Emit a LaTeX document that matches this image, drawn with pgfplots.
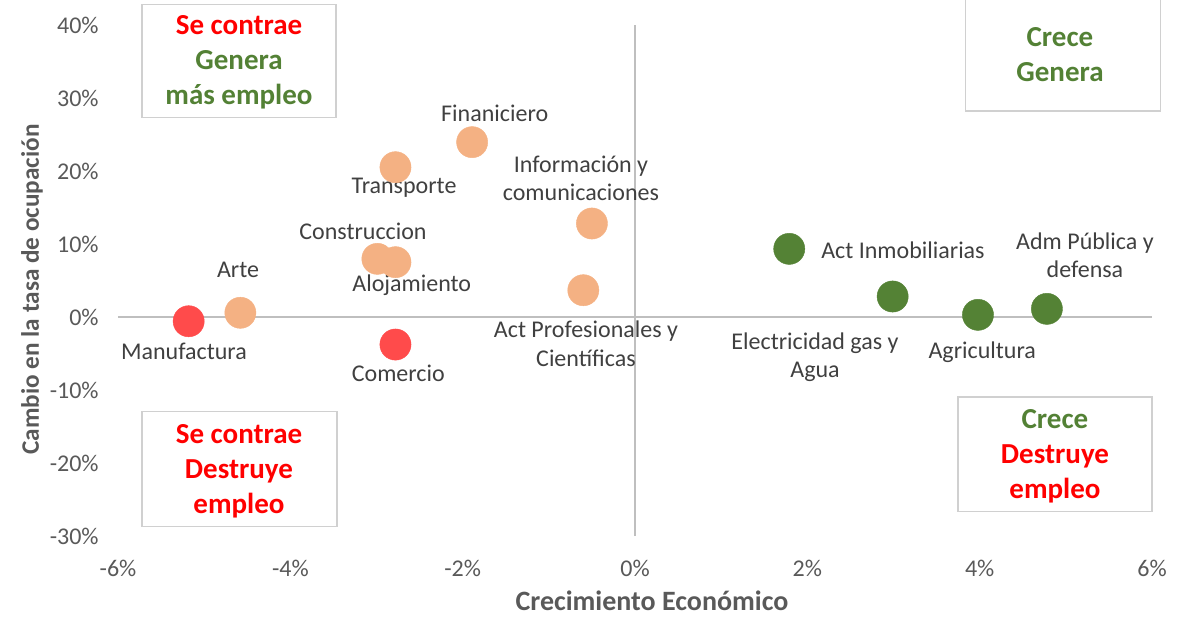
\documentclass[border=0pt]{standalone}
\usepackage{fontspec}
\setmainfont{Carlito}
\usepackage{pgfplots}
\pgfplotsset{compat=1.18}
\definecolor{tickgray}{HTML}{595959}
\definecolor{labgray}{HTML}{404040}
\definecolor{zerogray}{HTML}{BFBFBF}
\definecolor{boxgray}{HTML}{D0D0D0}
\definecolor{mred}{HTML}{FF4B4B}
\definecolor{mpeach}{HTML}{F4B183}
\definecolor{mgreen}{HTML}{548235}
\definecolor{tred}{HTML}{FF0000}
\definecolor{tgreen}{HTML}{538135}
\tikzset{
  lbl/.style={font=\fontsize{12}{14.25}\selectfont, text=labgray, align=center, inner sep=0pt},
  boxt/.style={font=\bfseries\fontsize{14.5}{17.5}\selectfont, align=center, inner sep=0pt},
}
\begin{document}
\begin{tikzpicture}
\path[use as bounding box] (-59pt,-40.5pt) rectangle (534pt,268pt);
\begin{axis}[
  at={(0pt,0pt)}, anchor=south west,
  scale only axis, width=517pt, height=255.5pt,
  xmin=-6, xmax=6, ymin=-30, ymax=40,
  axis line style={draw=none},
  major tick length=0pt,
  xtick={-6,-4,-2,0,2,4,6},
  xticklabels={-6\%,-4\%,-2\%,0\%,2\%,4\%,6\%},
  ytick={-30,-20,-10,0,10,20,30,40},
  yticklabels={-30\%,-20\%,-10\%,0\%,10\%,20\%,30\%,40\%},
  ticklabel style={font=\fontsize{12}{14}\selectfont, text=tickgray},
  xticklabel style={inner sep=0pt, anchor=north, yshift=-12pt},
  yticklabel style={inner sep=0pt, anchor=east, xshift=-9.5pt},
  clip=false,
]
% zero lines
\draw[zerogray, line width=0.75pt] (axis cs:0,-30) -- (axis cs:0,40);
\draw[zerogray, line width=0.75pt] (axis cs:-6,0) -- (axis cs:6,0);

% quadrant boxes
\draw[boxgray, line width=0.75pt] (axis cs:-5.721,42.81) rectangle (axis cs:-3.470,27.33);
\node[boxt] at (axis cs:-4.596,34.86) {\textcolor{tred}{Se contrae}\\\textcolor{tgreen}{Genera}\\\textcolor{tgreen}{más empleo}};
\draw[boxgray, line width=0.75pt] (axis cs:3.838,44.86) rectangle (axis cs:6.101,28.19);
\node[boxt] at (axis cs:4.932,35.89) {\textcolor{tgreen}{Crece}\\\textcolor{tgreen}{Genera}};
\draw[boxgray, line width=0.75pt] (axis cs:-5.721,-12.95) rectangle (axis cs:-3.458,-28.70);
\node[boxt] at (axis cs:-4.596,-21.16) {\textcolor{tred}{Se contrae}\\\textcolor{tred}{Destruye}\\\textcolor{tred}{empleo}};
\draw[boxgray, line width=0.75pt] (axis cs:3.748,-10.99) rectangle (axis cs:6.000,-26.64);
\node[boxt] at (axis cs:4.874,-19.07) {\textcolor{tgreen}{Crece}\\\textcolor{tred}{Destruye}\\\textcolor{tred}{empleo}};

% data
\addplot[only marks, mark=*, mark size=7.8pt, color=mred, mark options={fill=mred, draw=mred, line width=0.2pt}]
  coordinates {(-5.18,-0.58) (-2.78,-3.77)};
\addplot[only marks, mark=*, mark size=7.8pt, color=mpeach, mark options={fill=mpeach, draw=mpeach, line width=0.2pt}]
  coordinates {(-4.58,0.58) (-2.99,7.97) (-2.78,7.51) (-2.78,20.52) (-1.89,23.95) (-0.50,12.81) (-0.60,3.67)};
\addplot[only marks, mark=*, mark size=7.8pt, color=mgreen, mark options={fill=mgreen, draw=mgreen, line width=0.2pt}]
  coordinates {(1.79,9.34) (2.99,2.81) (3.98,0.30) (4.78,1.12)};

% data labels
\node[lbl] at (axis cs:-5.234,-4.68) {Manufactura};
\node[lbl] at (axis cs:-4.607,6.51) {Arte};
\node[lbl] at (axis cs:-3.157,11.67) {Construccion};
\node[lbl] at (axis cs:-2.591,4.32) {Alojamiento};
\node[lbl] at (axis cs:-2.747,-7.74) {Comercio};
\node[lbl] at (axis cs:-1.628,27.84) {Finaniciero};
\node[lbl] at (axis cs:-2.681,17.70) {Transporte};
\node[lbl] at (axis cs:-0.627,18.97) {Información y\\comunicaciones};
\node[lbl] at (axis cs:-0.569,-3.63) {Act Profesionales y\\Científicas};
\node[lbl] at (axis cs:3.110,9.11) {Act Inmobiliarias};
\node[lbl] at (axis cs:2.089,-5.48) {Electricidad gas y\\Agua};
\node[lbl] at (axis cs:4.030,-4.77) {Agricultura};
\node[lbl] at (axis cs:5.222,8.49) {Adm Pública y\\defensa};

% axis titles
\node[rotate=90, font=\bfseries\fontsize{12.6}{15}\selectfont, text=tickgray] at (axis cs:-6.998,3.77) {Cambio en la tasa de ocupación};
\node[font=\bfseries\fontsize{14}{16}\selectfont, text=tickgray] at (axis cs:0.197,-38.84) {Crecimiento Económico};
\end{axis}
\end{tikzpicture}
\end{document}
